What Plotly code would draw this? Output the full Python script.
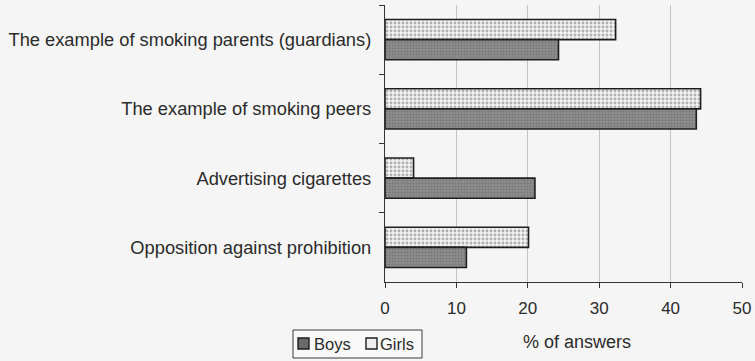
import plotly.graph_objects as go

# Reasons for starting to smoke, % of answers by sex
categories = [
    "The example of smoking parents (guardians)",
    "The example of smoking peers",
    "Advertising cigarettes",
    "Opposition against prohibition",
]
boys = [24.3, 43.6, 21.0, 11.4]
girls = [32.3, 44.2, 4.0, 20.1]
x_ticks = [0, 10, 20, 30, 40, 50]

W, H = 755, 361
L, R, T, B = 385, 13, 5, 79
PW, PH = W - L - R, H - T - B
text_col = "#2b2b2b"
font = "Liberation Sans, Arial, sans-serif"

boys_fill, girls_fill = "#8c8c8c", "#efefef"


def px_x(px):
    return (px - L) / PW


def px_y(py):
    return (H - B - py) / PH


fig = go.Figure()
# Girls drawn first so each group shows Girls above Boys on the reversed axis
fig.add_trace(go.Bar(
    y=categories, x=girls, name="Girls", orientation="h",
    marker=dict(
        color=girls_fill,
        line=dict(color="#1e1e1e", width=1.6),
        pattern=dict(shape=".", fgcolor="#6e6e6e", bgcolor="#f2f2f2",
                     size=4, solidity=0.4, fillmode="overlay"),
    ),
))
fig.add_trace(go.Bar(
    y=categories, x=boys, name="Boys", orientation="h",
    marker=dict(
        color=boys_fill,
        line=dict(color="#1e1e1e", width=1.6),
        pattern=dict(shape=".", fgcolor="#5e5e5e", bgcolor="#8e8e8e",
                     size=3, solidity=0.4, fillmode="overlay"),
    ),
))

fig.update_layout(
    width=W, height=H,
    margin=dict(l=L, r=R, t=T, b=B, pad=0),
    paper_bgcolor="#f5f5f5", plot_bgcolor="#f5f5f5",
    barmode="group", bargap=0.42, bargroupgap=0.0,
    font=dict(family=font, size=17, color=text_col),
    showlegend=False,
)

fig.update_xaxes(
    range=[0, 50], tickvals=x_ticks, ticktext=[str(v) for v in x_ticks],
    showgrid=True, gridcolor="#c4c4c4", gridwidth=1,
    showline=True, linecolor="#333", linewidth=1.2,
    ticks="outside", ticklen=5, tickcolor="#333",
    tickfont=dict(size=17, color=text_col), ticklabelstandoff=5,
    zeroline=False, fixedrange=True,
)
fig.update_yaxes(
    autorange="reversed", type="category",
    showline=True, linecolor="#333", linewidth=1.2,
    ticks="outside", ticklen=5, tickcolor="#333", tickson="boundaries",
    tickfont=dict(size=18.3, color=text_col), ticklabelstandoff=9,
    showgrid=False, fixedrange=True,
)

fig.add_annotation(
    text="% of answers", xref="paper", yref="paper",
    x=px_x(577), y=px_y(342),
    xanchor="center", yanchor="middle", showarrow=False,
    font=dict(size=18, color=text_col),
)

# Legend box below the plot: Boys, Girls
fig.add_shape(type="rect", xref="paper", yref="paper",
              x0=px_x(293), x1=px_x(422), y0=px_y(330), y1=px_y(358),
              line=dict(color="#3a3a3a", width=1), fillcolor="#f8f8f8")
for name, fill, sx, tx in [("Boys", "#6a6a6a", 298, 312),
                           ("Girls", girls_fill, 366, 378)]:
    fig.add_shape(type="rect", xref="paper", yref="paper",
                  x0=px_x(sx), x1=px_x(sx + 11), y0=px_y(338), y1=px_y(349),
                  line=dict(color="#1e1e1e", width=1.4), fillcolor=fill)
    fig.add_annotation(text=name, xref="paper", yref="paper",
                       x=px_x(tx), y=px_y(344), xanchor="left",
                       yanchor="middle", showarrow=False,
                       font=dict(size=16.5, color=text_col))

fig.write_html("out.html")
